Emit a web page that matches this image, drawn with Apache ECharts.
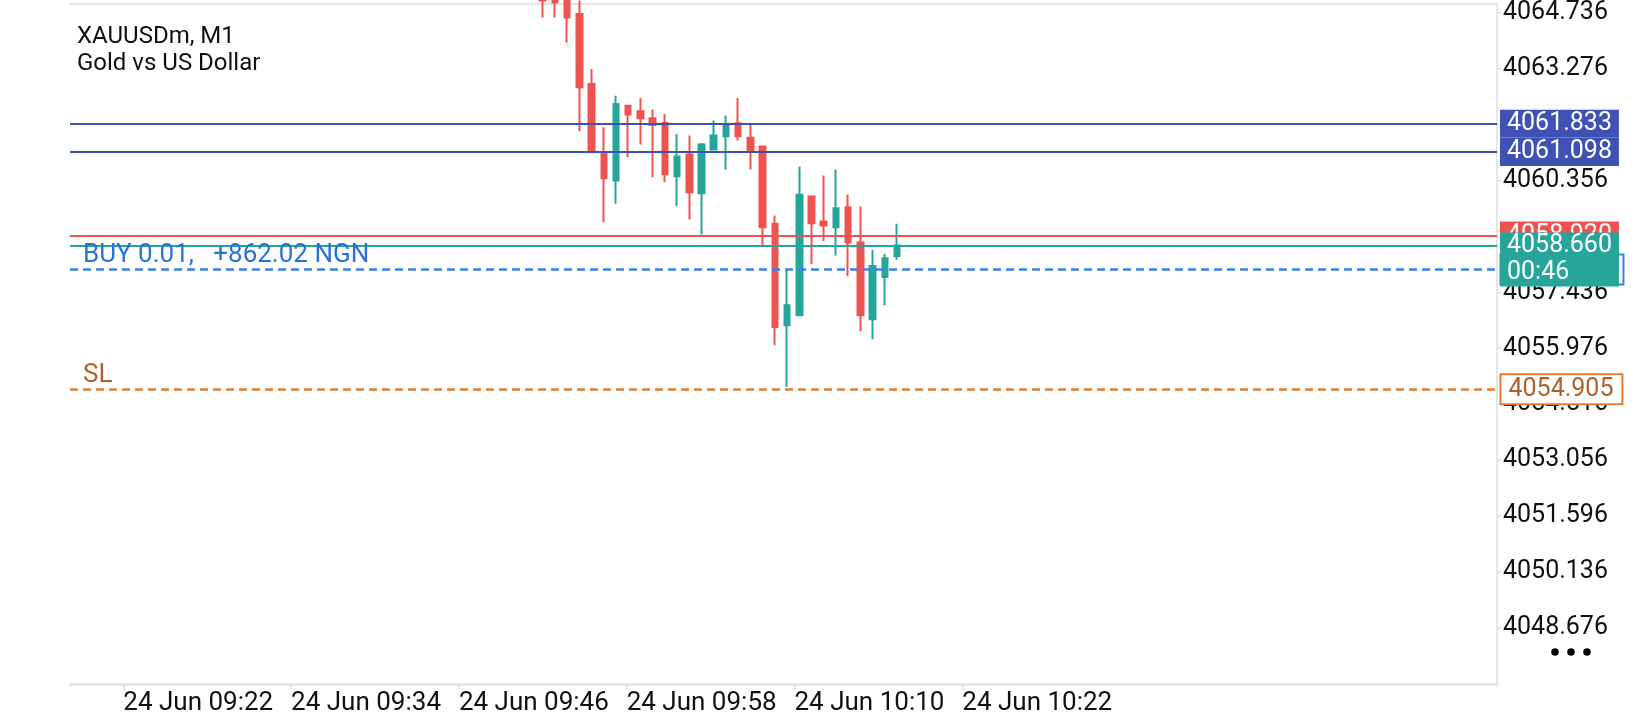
<!DOCTYPE html>
<html>
<head>
<meta charset="utf-8">
<script src="https://cdn.jsdelivr.net/npm/echarts@6.0.0/dist/echarts.min.js"></script>
<style>
  html, body { margin: 0; padding: 0; background: #ffffff; }
  #chart { width: 1640px; height: 720px; }
</style>
</head>
<body>
<div id="chart"></div>
<script>
// ---------------- data ----------------
const symbolName = 'XAUUSDm, M1';
const symbolDesc = 'Gold vs US Dollar';

const candleTimes = ['09:48','09:49','09:50','09:51','09:52','09:53','09:54','09:55','09:56','09:57',
  '09:58','09:59','10:00','10:01','10:02','10:03','10:04','10:05','10:06','10:07',
  '10:08','10:09','10:10','10:11','10:12','10:13','10:14','10:15','10:16','10:17'];
const opens  = [4065.30, 4065.20, 4065.20, 4064.694, 4062.871, 4061.090, 4060.353, 4062.306, 4062.158, 4061.975,
  4061.855, 4060.465, 4061.030, 4060.022, 4061.160, 4061.506, 4061.845, 4061.465, 4061.238, 4059.225,
  4056.576, 4056.836, 4059.936, 4059.285, 4059.136, 4059.657, 4058.738, 4056.732, 4057.834, 4058.381];
const closes = [4065.05, 4065.00, 4064.606, 4062.783, 4061.090, 4060.412, 4062.350, 4062.072, 4061.975, 4061.803,
  4060.517, 4060.978, 4060.048, 4061.290, 4061.525, 4061.785, 4061.506, 4061.134, 4059.136, 4056.532,
  4057.097, 4059.980, 4059.240, 4059.180, 4059.631, 4058.738, 4056.836, 4058.120, 4058.321, 4058.660];
const lows   = [4064.606, 4064.606, 4063.955, 4061.637, 4061.064, 4059.266, 4059.746, 4060.959, 4061.290, 4060.439,
  4060.308, 4059.683, 4059.337, 4058.946, 4061.134, 4060.631, 4061.394, 4060.639, 4058.615, 4056.055,
  4054.969, 4056.836, 4058.165, 4058.772, 4058.399, 4057.852, 4056.427, 4056.211, 4057.097, 4058.287];
const highs  = [4065.40, 4065.30, 4065.30, 4065.05, 4063.262, 4061.741, 4062.566, 4062.306, 4062.507, 4062.202,
  4062.090, 4061.569, 4061.525, 4061.334, 4061.915, 4062.046, 4062.507, 4061.845, 4061.238, 4059.441,
  4058.027, 4060.717, 4059.936, 4060.483, 4060.639, 4059.988, 4059.675, 4058.548, 4058.443, 4059.225];

// time axis labels (minutes of day) and their texts
const timeTickMinutes = [562, 574, 586, 598, 610, 622];
const timeTickLabels = ['24 Jun 09:22', '24 Jun 09:34', '24 Jun 09:46', '24 Jun 09:58', '24 Jun 10:10', '24 Jun 10:22'];

// price axis ticks
const priceTickStart = 4047.216;
const priceTickStep = 1.46;

// horizontal levels
const level1Price = 4061.833;
const level2Price = 4061.098;
const askPrice = 4058.920;
const bidPrice = 4058.660;
const entryPrice = 4058.030;
const slPrice = 4054.905;
const barCountdown = '00:46';
const positionText = 'BUY 0.01,   +862.02 NGN';
const slText = 'SL';

// ---------------- layout / style ----------------
const FONT = 'Roboto';
const UP = '#26A69A';
const DOWN = '#EF5350';
const INDIGO = '#3F51B5';
const ENTRY_BLUE = '#3B82E6';
const SL_ORANGE = '#E57C2F';
const SL_TEXT = '#B0602F';
const FRAME = '#E6E6E6';

const candleAxisMin = -38.68, candleAxisMax = 78.10;
const priceAxisMax = 4064.963;
const timeAxisMin = 558.188, timeAxisMax = 660.24;

const candleData = opens.map((o, i) => ({ name: candleTimes[i], value: [i, o, closes[i], lows[i], highs[i]] }));

const boxLabel = (bg, fg, border) => ({
  show: true, position: 'right', distance: 2.5,
  formatter: p => p.value.toFixed(3),
  fontFamily: FONT, fontSize: 25, lineHeight: 28,
  color: fg, backgroundColor: bg,
  borderColor: border || 'transparent', borderWidth: border ? 2 : 0,
  padding: [0, 7, 0, 7]
});

const chart = echarts.init(document.getElementById('chart'), null, { renderer: 'canvas' });
chart.setOption({
  animation: false,
  backgroundColor: '#ffffff',
  title: {
    text: symbolName + '\n' + symbolDesc,
    left: 77, top: 23, padding: 0,
    textStyle: { fontFamily: FONT, fontSize: 24, fontWeight: 'normal', color: '#111111', lineHeight: 27 }
  },
  grid: { left: 70, right: 143, top: 3, bottom: 36, containLabel: false },
  xAxis: [
    {
      type: 'value', min: candleAxisMin, max: candleAxisMax, position: 'top',
      axisLine: { show: true, onZero: false, lineStyle: { color: FRAME, width: 2 } },
      axisTick: { show: false }, axisLabel: { show: false }, splitLine: { show: false }
    },
    {
      type: 'value', min: timeAxisMin, max: timeAxisMax, position: 'bottom',
      axisLine: { show: true, onZero: false, lineStyle: { color: FRAME, width: 3 } },
      axisTick: { show: true, customValues: timeTickMinutes, length: 6, lineStyle: { color: '#DDDDDD', width: 1.5 } },
      axisLabel: {
        show: true, customValues: timeTickMinutes, align: 'left', margin: 7,
        fontFamily: FONT, fontSize: 26, lineHeight: 25, color: '#111111',
        formatter: v => { const k = timeTickMinutes.indexOf(Math.round(v)); return k >= 0 ? timeTickLabels[k] : ''; }
      },
      splitLine: { show: false }
    }
  ],
  yAxis: {
    type: 'value', position: 'right', scale: true,
    min: priceTickStart, max: priceAxisMax, interval: priceTickStep,
    axisLine: { show: true, onZero: false, lineStyle: { color: FRAME, width: 2 } },
    axisTick: { show: true, length: 4, lineStyle: { color: '#DDDDDD', width: 1.5 } },
    axisLabel: {
      show: true, margin: 6, showMinLabel: false, showMaxLabel: false,
      fontFamily: FONT, fontSize: 25, color: '#111111',
      formatter: v => v.toFixed(3)
    },
    splitLine: { show: false }
  },
  graphic: [
    { type: 'circle', shape: { cx: 1555, cy: 652, r: 3.8 }, style: { fill: '#000' } },
    { type: 'circle', shape: { cx: 1571, cy: 652, r: 3.8 }, style: { fill: '#000' } },
    { type: 'circle', shape: { cx: 1587, cy: 652, r: 3.8 }, style: { fill: '#000' } }
  ],
  series: [{
    type: 'candlestick',
    xAxisIndex: 0, yAxisIndex: 0,
    encode: { x: 0, y: [1, 2, 3, 4] },
    data: candleData,
    barWidth: 6,
    clip: true,
    itemStyle: { color: UP, color0: DOWN, borderColor: UP, borderColor0: DOWN, borderWidth: 2 },
    markLine: {
      silent: true, symbol: ['none', 'none'], animation: false,
      label: { show: false },
      data: [
        { yAxis: level1Price, lineStyle: { color: INDIGO, width: 2, type: 'solid' } },
        { yAxis: level2Price, lineStyle: { color: INDIGO, width: 2, type: 'solid' } },
        { yAxis: askPrice, lineStyle: { color: DOWN, width: 2, type: 'solid' } },
        { yAxis: bidPrice, lineStyle: { color: UP, width: 2, type: 'solid' } },
        { yAxis: entryPrice, lineStyle: { color: ENTRY_BLUE, width: 2.5, type: [8, 5] },
          label: { show: true, position: 'insideStartTop', distance: 1, padding: [0, 0, 0, 12],
            formatter: positionText, fontFamily: FONT, fontSize: 26, color: '#2A72D8' } },
        { yAxis: slPrice, lineStyle: { color: SL_ORANGE, width: 2.5, type: [8, 5] },
          label: { show: true, position: 'insideStartTop', distance: 1, padding: [0, 0, 0, 12],
            formatter: slText, fontFamily: FONT, fontSize: 26, color: SL_TEXT } }
      ]
    },
    markPoint: {
      silent: true, animation: false, z: 10,
      symbol: 'rect', symbolSize: 1, itemStyle: { color: 'rgba(0,0,0,0)' },
      data: [
        { coord: [candleAxisMax, level1Price], value: level1Price, label: boxLabel(INDIGO, '#ffffff') },
        { coord: [candleAxisMax, level2Price], value: level2Price, label: boxLabel(INDIGO, '#ffffff') },
        { coord: [candleAxisMax, askPrice], value: askPrice, label: boxLabel(DOWN, '#ffffff') },
        { coord: [candleAxisMax, entryPrice], value: entryPrice, label: Object.assign(boxLabel('#ffffff', ENTRY_BLUE, ENTRY_BLUE), { padding: [0, 9, 0, 7], distance: 4 }) },
        { coord: [candleAxisMax, slPrice], value: slPrice, label: Object.assign(boxLabel('#ffffff', SL_TEXT, SL_ORANGE), { padding: [0, 8, 0, 7], distance: 4 }) },
        { coord: [candleAxisMax, bidPrice], value: bidPrice, label: Object.assign(boxLabel(UP, '#ffffff'), {
            lineHeight: 27, offset: [0, 14],
            formatter: p => p.value.toFixed(3) + '\n' + barCountdown }) }
      ]
    }
  }]
});
</script>
</body>
</html>
